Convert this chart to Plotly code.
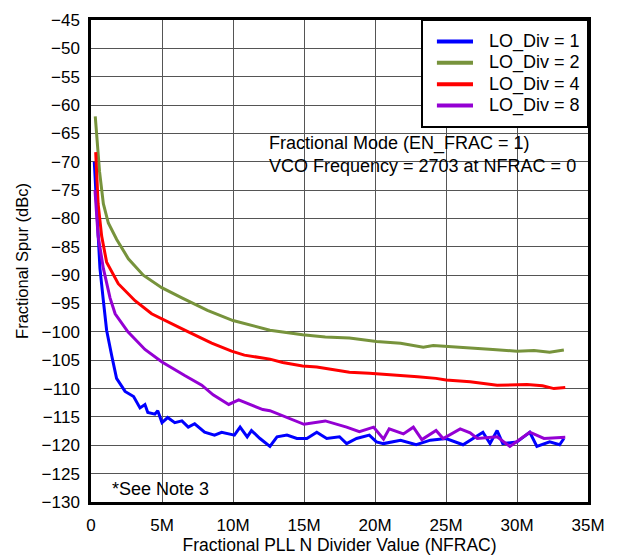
import plotly.graph_objects as go

# NFRAC in millions, spur in dBc
div1_x = [0.23, 0.63, 0.87, 1.1, 1.46, 1.8, 2.4, 3.0, 3.45, 3.8, 4.0, 4.5, 4.7, 5.0, 5.4, 5.9,
          6.4, 6.85, 7.3, 8.0, 8.7, 9.2, 10.1, 10.5, 11.0, 11.3, 11.9, 12.6, 13.1, 13.8, 14.5,
          15.2, 15.9, 16.6, 17.5, 18.0, 18.7, 19.6, 20.1, 20.6, 21.8, 22.9, 23.9, 25.0, 26.2,
          27.6, 28.1, 28.6, 29.0, 30.0, 30.9, 31.4, 32.3, 33.0, 33.3]
div1_y = [-70.0, -88.8, -94.5, -99.7, -104.2, -108.2, -110.5, -111.4, -113.4, -112.8, -114.2,
          -114.5, -113.9, -116.0, -115.1, -116.0, -115.7, -116.8, -116.2, -117.7, -118.2, -117.7,
          -118.2, -116.8, -118.5, -117.4, -118.8, -120.2, -118.5, -118.2, -118.8, -118.8, -117.7,
          -118.8, -118.5, -119.7, -118.8, -118.2, -119.4, -119.7, -119.1, -119.9, -119.1, -118.8,
          -119.9, -117.7, -119.7, -117.4, -119.7, -119.4, -117.7, -120.2, -119.4, -119.9, -118.8]

div2_x = [0.3, 0.6, 0.87, 1.22, 1.81, 2.63, 3.68, 4.98, 6.4, 8.2, 10.0, 11.3, 12.6, 14.9, 16.5,
          18.2, 20.1, 21.8, 23.4, 24.1, 25.5, 26.7, 28.3, 30.0, 31.2, 32.3, 33.3]
div2_y = [-62.0, -71.7, -77.4, -80.8, -83.7, -87.1, -90.0, -92.2, -94.0, -96.2, -98.0, -98.9,
          -99.7, -100.5, -100.9, -101.1, -101.7, -102.0, -102.7, -102.4, -102.6, -102.9, -103.1,
          -103.4, -103.3, -103.6, -103.2]

div4_x = [0.33, 0.5, 0.75, 1.1, 1.92, 3.1, 4.27, 5.2, 6.6, 8.5, 9.9, 10.8, 12.6, 13.5, 14.9,
          15.9, 18.2, 19.6, 21.5, 23.0, 24.3, 25.0, 26.7, 28.6, 30.7, 31.8, 32.6, 33.4]
div4_y = [-68.3, -77.4, -83.1, -87.7, -91.5, -94.5, -96.8, -98.0, -99.7, -102.0, -103.4, -104.1,
          -104.8, -105.4, -106.0, -106.2, -107.1, -107.3, -107.6, -107.9, -108.2, -108.5, -108.8,
          -109.4, -109.3, -109.5, -110.0, -109.8]

div8_x = [0.28, 0.5, 0.87, 1.34, 1.7, 2.6, 3.8, 5.0, 6.6, 7.8, 8.6, 9.0, 9.7, 10.4, 12.1, 12.6,
          13.8, 15.0, 16.5, 18.0, 18.9, 19.9, 20.6, 21.0, 22.0, 22.7, 23.3, 24.3, 24.8, 26.0,
          26.7, 27.2, 28.6, 29.5, 30.9, 31.9, 33.4]
div8_y = [-75.0, -83.1, -88.8, -94.0, -96.8, -100.0, -103.1, -105.3, -107.7, -109.4, -111.1,
          -111.7, -112.8, -112.0, -113.7, -113.9, -115.1, -116.3, -115.7, -116.8, -117.6, -116.8,
          -118.9, -117.1, -118.0, -116.8, -119.0, -117.4, -118.8, -117.1, -117.8, -118.8, -118.5,
          -120.2, -117.7, -118.8, -118.6]

series = [
    ('LO_Div = 1', div1_x, div1_y, '#0000FF'),
    ('LO_Div = 2', div2_x, div2_y, '#77933C'),
    ('LO_Div = 4', div4_x, div4_y, '#FF0000'),
    ('LO_Div = 8', div8_x, div8_y, '#9400D3'),
]

x_ticks = [0, 5, 10, 15, 20, 25, 30, 35]
x_labels = ['0', '5M', '10M', '15M', '20M', '25M', '30M', '35M']

FONT = 'Liberation Sans, Arial, sans-serif'

fig = go.Figure()
for name, xs, ys, color in series:
    fig.add_trace(go.Scatter(
        name=name, x=xs, y=ys, mode='lines',
        line=dict(color=color, width=3),
    ))

# hand-drawn legend box (plotly's own legend spaces rows too loosely)
shapes = [
    dict(type='rect', xref='paper', yref='paper', x0=0.666, x1=1, y0=0.778, y1=1,
         fillcolor='white', line=dict(color='black', width=2), layer='above'),
    # white patches behind the notes
    dict(type='rect', xref='paper', yref='paper', x0=0.33, x1=1, y0=0.639, y1=0.778,
         fillcolor='white', line=dict(width=0), layer='between'),
    dict(type='rect', xref='paper', yref='paper', x0=0, x1=0.2555, y0=0, y1=0.0806,
         fillcolor='white', line=dict(width=0), layer='between'),
]
annotations = [
    dict(xref='paper', yref='paper', x=0.355, y=0.72, xanchor='left', yanchor='middle',
         align='left', showarrow=False, font=dict(size=18),
         text='Fractional Mode (EN_FRAC = 1)<br>VCO Frequency = 2703 at NFRAC = 0'),
    dict(xref='paper', yref='paper', x=0.038, y=0.028, xanchor='left', yanchor='middle',
         showarrow=False, font=dict(size=18), text='*See Note 3'),
]
legend_rows = [0.9556, 0.9113, 0.8669, 0.8226]
for (name, _, _, color), yrow in zip(series, legend_rows):
    shapes.append(dict(type='line', xref='paper', yref='paper', x0=0.696, x1=0.7686,
                       y0=yrow, y1=yrow, line=dict(color=color, width=4), layer='above'))
    annotations.append(dict(xref='paper', yref='paper', x=0.797, y=yrow, xanchor='left',
                            yanchor='middle', showarrow=False, font=dict(size=18), text=name))

fig.update_layout(
    width=621, height=559,
    margin=dict(l=91, r=33, t=11, b=52),
    paper_bgcolor='white',
    plot_bgcolor='white',
    font=dict(family=FONT, size=18, color='black'),
    showlegend=False,
    shapes=shapes,
    annotations=annotations,
)

fig.update_xaxes(
    range=[0, 35], tickvals=x_ticks, ticktext=x_labels,
    tickfont=dict(size=17), ticklabelstandoff=6,
    showgrid=True, gridcolor='#555555', gridwidth=1,
    showline=True, linecolor='black', linewidth=2.5, mirror=True,
    ticks='', zeroline=False,
    title=dict(text='Fractional PLL N Divider Value (NFRAC)', font=dict(size=17.5), standoff=1),
)
fig.update_yaxes(
    range=[-130, -45], dtick=5, tick0=-130,
    tickfont=dict(size=17), ticklabelstandoff=5,
    showgrid=True, gridcolor='#555555', gridwidth=1,
    showline=True, linecolor='black', linewidth=2.5, mirror=True,
    ticks='', zeroline=False,
    title=dict(text='Fractional Spur (dBc)', font=dict(size=16.5), standoff=9),
)

# drop the page's default 8px body margin so the figure sits at the window origin
fig.write_html('out.html', config={'displayModeBar': False},
               post_script="document.body.style.margin='0';")
